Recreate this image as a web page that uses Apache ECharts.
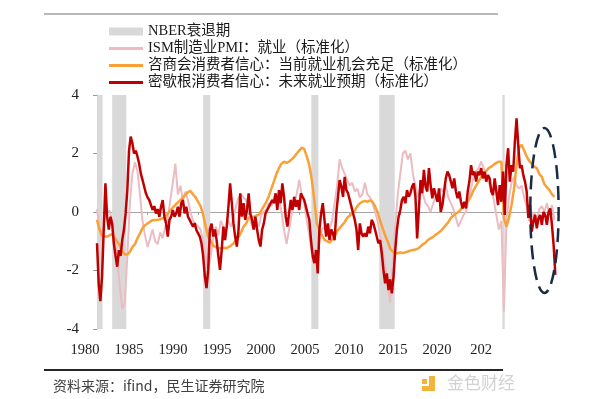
<!DOCTYPE html>
<html>
<head>
<meta charset="utf-8">
<script src="https://cdn.jsdelivr.net/npm/echarts/dist/echarts.min.js"></script>
<style>html,body{margin:0;padding:0;background:#fff;}#c{width:600px;height:399px;}</style>
</head>
<body>
<div id="c"></div>
<script>
// ---- data ----
const startYear = 1980;
const xLabels = ['1980','1985','1990','1995','2000','2005','2010','2015','2020','202'];
const recessions = [[1980.0,1980.55],[1981.5,1982.9],[1990.5,1991.2],[2001.2,2001.9],[2007.92,2009.45],[2020.1,2020.33]];
const seriesNames = ['NBER衰退期','ISM制造业PMI：就业（标准化）','咨商会消费者信心：当前就业机会充足（标准化）','密歇根消费者信心：未来就业预期（标准化）'];
// Michigan: bimonthly (6 per year) from 1980
const redPerYear = 6;
const red = [
-1.07,-2.44,-3.05,-2.2,-0.6,0.98,
-0.16,-0.6,-0.16,-0.4,-1.07,-1.5,
-1.87,-1.3,-1.5,-0.95,-0.6,-0.05,
0.75,2.1,2.58,2.35,2.0,2.1,
1.9,1.66,1.32,1.1,0.87,0.64,
0.5,0.41,0.24,0.07,0.2,-0.05,
0.1,-0.16,0.18,0.41,-0.16,-0.39,
-0.84,-0.27,-0.16,0.07,-0.16,-0.05,
0.18,-0.16,0.3,0.41,-0.05,0.18,
-0.16,-0.27,-0.39,-0.5,-0.39,-0.62,
-0.73,-0.84,-1.07,-1.5,-2.2,-2.6,
-1.98,-0.6,-0.4,-0.84,-0.6,-0.96,
-1.5,-1.98,-1.3,-0.5,-0.96,-0.5,
0.18,0.98,0.3,-0.39,-0.84,-1.18,
-0.6,0.64,-0.16,0.3,-0.27,0.07,
0.64,-0.05,-0.27,-0.6,-0.16,-0.6,
-0.96,-1.18,-0.6,-0.39,-0.05,-0.05,
0.18,0.18,0.41,0.3,0.64,0.07,
0.75,0.3,0.98,0.52,-0.16,-0.5,
-0.05,0.41,0.07,0.52,0.18,0.41,
0.07,0.64,0.52,0.41,0.18,-0.05,
-0.27,-0.96,-1.5,-1.75,-1.3,-2.1,
-0.6,-0.05,0.3,-0.27,-0.84,-0.39,
-0.96,-0.6,-0.73,-0.96,-0.05,0.52,
1.09,0.87,0.52,1.2,0.75,0.64,
0.41,0.18,-0.05,-0.27,-0.6,-1.3,
-0.39,-0.73,-0.84,-0.73,-0.84,-0.5,
-0.73,-0.27,-0.39,-0.6,-0.6,-1.07,
-0.96,-1.41,-1.98,-2.44,-2.1,-2.67,
-2.3,-2.78,-2.2,-1.3,-0.6,-0.16,
0.07,0.41,0.52,0.3,0.75,0.52,
0.64,0.87,0.98,0.52,-0.9,0.07,
1.09,0.64,1.44,0.87,0.7,1.5,
0.92,0.47,0.81,0.58,0.35,0.81,
0.0,0.24,0.7,1.15,1.38,1.26,
1.04,0.81,1.15,0.7,0.47,0.7,
0.35,0.12,0.35,0.12,0.7,1.04,
1.6,1.26,1.38,1.04,1.38,1.26,
1.5,1.15,1.38,1.04,1.26,1.15,
0.7,0.58,1.15,0.7,0.24,0.92,
0.35,1.38,-0.1,1.6,2.18,1.04,
1.6,1.38,2.4,3.2,2.28,1.5,
1.6,1.26,1.04,0.7,-0.2,0.24,
-0.67,-0.33,-0.1,-0.56,-0.22,-0.1,
-0.44,0.0,-0.1,-0.44,0.0,0.12,
-0.44,-1.13,-2.15
];
// Conference Board: quarterly from 1980
const orangePerYear = 4;
const orange = [
-0.27,-0.6,-0.8,-0.84,
-0.84,-0.8,-0.75,-0.9,
-1.0,-1.15,-1.35,-1.45,
-1.45,-1.36,-1.2,-1.1,
-0.9,-0.73,-0.55,-0.45,
-0.39,-0.33,-0.28,-0.27,
-0.27,-0.25,-0.22,-0.2,
-0.05,0.05,0.15,0.24,
0.33,0.4,0.5,0.58,
0.68,0.72,0.6,0.5,
0.35,0.2,-0.1,-0.5,
-0.84,-1.0,-1.15,-1.2,
-1.24,-1.24,-1.22,-1.24,
-1.2,-1.15,-1.08,-0.96,
-0.85,-0.7,-0.5,-0.39,
-0.2,-0.15,-0.17,-0.12,
-0.1,0.05,0.2,0.35,
0.55,0.8,1.05,1.3,
1.5,1.65,1.72,1.68,
1.72,1.8,1.88,2.0,
2.1,2.2,2.15,1.9,
1.6,1.1,0.4,-0.4,
-0.6,-0.8,-0.95,-1.0,
-1.05,-0.95,-0.85,-0.65,
-0.55,-0.45,-0.35,-0.2,
-0.12,-0.05,0.05,0.2,
0.3,0.35,0.38,0.35,
0.4,0.35,0.2,0.0,
-0.3,-0.55,-0.8,-1.0,
-1.25,-1.35,-1.41,-1.41,
-1.38,-1.4,-1.38,-1.35,
-1.32,-1.3,-1.28,-1.25,
-1.18,-1.1,-1.05,-0.95,
-0.9,-0.85,-0.78,-0.72,
-0.65,-0.55,-0.45,-0.35,
-0.2,-0.12,-0.05,0.0,
0.1,0.22,0.3,0.4,
0.55,0.75,0.9,1.05,
1.2,1.3,1.4,1.5,
1.55,1.62,1.68,1.72,
1.72,-0.2,-0.5,-0.2,
0.24,0.8,1.6,2.2,
2.3,2.1,1.9,1.75,
1.65,1.55,1.5,1.3,
1.2,0.95,0.85,0.75,
0.6,0.52
];
// ISM employment: quarterly from 1980
const pinkPerYear = 4;
const pink = [
0.1,-0.6,-1.0,-0.2,
0.0,0.05,-0.3,-0.9,
-1.6,-2.5,-3.3,-3.1,
-1.5,0.3,1.3,1.7,
1.4,0.6,-0.3,-0.8,
-1.2,-0.9,-0.6,-1.0,
-1.1,-0.7,-0.9,-0.5,
-0.2,0.4,1.0,1.65,
0.6,0.9,0.4,0.7,
0.4,0.0,-0.3,-0.4,
-0.5,-0.6,-1.0,-1.5,
-2.0,-1.5,-0.9,-0.5,
-0.8,-0.3,-0.5,-0.6,
-0.3,-0.5,-0.2,0.2,
0.5,0.6,0.5,0.4,
0.2,-0.4,-0.6,-0.3,
-0.5,-0.1,0.0,0.1,
0.3,0.2,0.5,0.6,
0.5,0.0,-0.6,-1.1,
-0.6,-0.1,0.3,0.6,
1.1,0.6,0.3,-0.3,
-0.8,-1.4,-1.6,-1.8,
-1.0,-0.6,-0.5,-0.7,
-0.6,-0.3,0.3,0.9,
1.8,1.5,1.3,1.1,
0.9,1.0,0.7,0.8,
0.5,0.6,1.0,0.6,
0.5,0.3,0.0,-0.3,
-0.8,-1.3,-1.8,-2.5,
-3.1,-1.8,-0.5,0.6,
1.3,2.0,2.1,1.8,
2.0,1.3,0.9,0.5,
0.9,0.6,0.3,0.2,
0.0,0.3,0.5,0.6,
0.8,0.7,0.9,0.5,
0.3,0.1,-0.2,-0.5,
-0.3,-0.1,0.0,0.4,
0.8,1.2,1.4,1.5,
1.72,1.5,1.3,1.0,
0.8,0.4,-0.1,-0.6,
-0.3,-3.4,-0.3,0.5,
1.0,1.2,0.9,0.8,
0.9,0.5,0.2,-0.3,
-0.2,0.0,-0.3,0.1,
0.2,0.0,0.3,-0.1,
0.24,-0.27
];

function toPts(arr, perYear){ return arr.map((v,i)=>[startYear + i/perYear, v]); }

const chart = echarts.init(document.getElementById('c'), null, {renderer:'canvas'});
const serif = 'Liberation Serif, Times New Roman, Noto Sans CJK SC, serif';
// thin bar legend icon (invisible corner dots keep the full icon box)
const lineIcon = 'path://M0,0h0.05v0.05h-0.05z M0,2.6h34v2.8h-34z M33.95,7.95h0.05v0.05h-0.05z';

chart.setOption({
  animation:false,
  backgroundColor:'#fff',
  grid:[
    {left:97, right:43, top:95, bottom:70},
    {left:63, right:97, top:95, bottom:70}
  ],
  legend:{
    orient:'vertical', left:109, top:23, padding:0,
    itemWidth:34, itemHeight:8, itemGap:0, itemTextGap:4,
    textStyle:{fontSize:14.5, lineHeight:17, color:'#1a1a1a', fontFamily:serif},
    data:[
      {name:seriesNames[0], icon:'rect'},
      {name:seriesNames[1], icon:lineIcon},
      {name:seriesNames[2], icon:lineIcon},
      {name:seriesNames[3], icon:lineIcon}
    ]
  },
  xAxis:[
    {type:'value', gridIndex:0, min:1980, max:2025.5, interval:5,
     axisLine:{onZero:true, lineStyle:{color:'#a6a6a6', width:1}},
     axisTick:{show:true, length:3, lineStyle:{color:'#a6a6a6'}},
     axisLabel:{show:false}, splitLine:{show:false}},
    {type:'category', gridIndex:1, data:xLabels, boundaryGap:true,
     axisLine:{show:false}, axisTick:{show:false},
     axisLabel:{margin:14, fontSize:14.5, color:'#222', fontFamily:serif}}
  ],
  yAxis:[
    {type:'value', gridIndex:0, min:-4, max:4, interval:2,
     axisLine:{show:true, lineStyle:{color:'#999', width:1}},
     axisTick:{show:true, length:4, lineStyle:{color:'#999'}},
     axisLabel:{margin:18, fontSize:15, color:'#222', fontFamily:serif},
     splitLine:{show:false}},
    {type:'value', gridIndex:1, show:false, min:-4, max:4}
  ],
  series:[
    {type:'custom', name:seriesNames[0], xAxisIndex:0, yAxisIndex:0, z:1,
     itemStyle:{color:'#d9d9d9'},
     encode:{x:[0,1]},
     data:recessions,
     renderItem:function(params, api){
       const p0 = api.coord([api.value(0), 4]);
       const p1 = api.coord([api.value(1), -4]);
       return {type:'rect', shape:{x:p0[0], y:p0[1], width:p1[0]-p0[0], height:p1[1]-p0[1]},
               style:{fill:'#d9d9d9'}};
     }},
    {type:'line', name:seriesNames[1], xAxisIndex:0, yAxisIndex:0, z:3,
     data:toPts(pink, pinkPerYear), symbol:'none', showSymbol:false,
     lineStyle:{color:'#ebbcc1', width:2}, itemStyle:{color:'#ebbcc1'}},
    {type:'line', name:seriesNames[2], xAxisIndex:0, yAxisIndex:0, z:4,
     data:toPts(orange, orangePerYear), symbol:'none', showSymbol:false,
     lineStyle:{color:'#f9a037', width:2.5}, itemStyle:{color:'#f9a037'}},
    {type:'line', name:seriesNames[3], xAxisIndex:0, yAxisIndex:0, z:5,
     data:toPts(red, redPerYear), symbol:'none', showSymbol:false,
     lineStyle:{color:'#c00000', width:2.5}, itemStyle:{color:'#c00000'}}
  ]
});

// annotation ellipse placed through the axes
const ctr = chart.convertToPixel({gridIndex:0}, [2024.26, 0.05]);
const edge = chart.convertToPixel({gridIndex:0}, [2024.26 + 1.4, 0.05 + 2.82]);
const rx = Math.abs(edge[0]-ctr[0]), ry = Math.abs(edge[1]-ctr[1]);

chart.setOption({
  graphic:[
    {type:'line', shape:{x1:44, y1:14, x2:498, y2:14}, style:{stroke:'#a0a0a0', lineWidth:1.5}, silent:true},
    {type:'line', shape:{x1:44, y1:370, x2:503, y2:370}, style:{stroke:'#262626', lineWidth:2}, silent:true},
    {type:'text', left:53, top:379, style:{text:'资料来源：ifind，民生证券研究院', fontSize:14, fontFamily:'Noto Sans CJK SC', fill:'#404040'}},
    {type:'rect', shape:{x:422, y:379, width:5, height:5}, style:{fill:'#f2b53a'}},
    {type:'rect', shape:{x:429, y:376, width:6, height:15}, style:{fill:'#f2b53a'}},
    {type:'rect', shape:{x:422, y:386, width:13, height:5}, style:{fill:'#f2b53a'}},
    {type:'text', left:447, top:374, style:{text:'金色财经', fontSize:17, fontFamily:'Noto Sans CJK SC', fill:'#d2d2d2'}},
    {type:'ellipse', z:100, shape:{cx:ctr[0], cy:ctr[1], rx:rx, ry:ry},
     style:{fill:'none', stroke:'#1c2b44', lineWidth:2.5, lineDash:[14,7]}}
  ]
});
</script>
</body>
</html>
